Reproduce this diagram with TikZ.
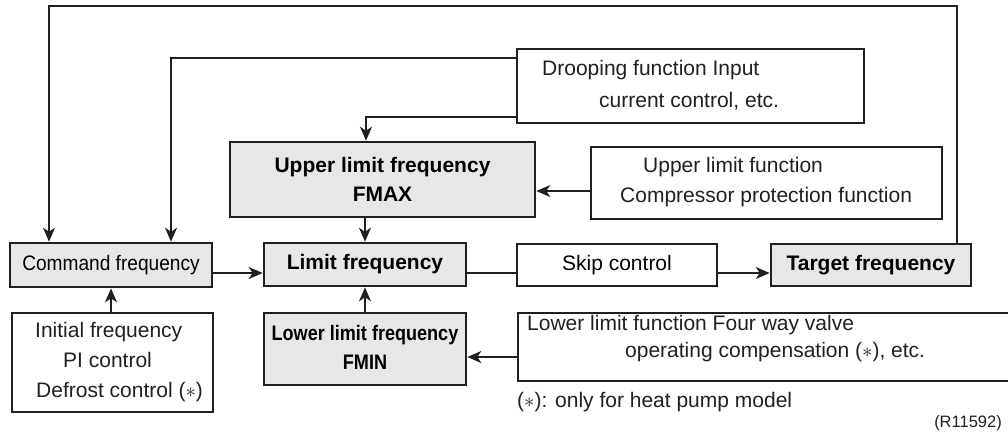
\documentclass[tikz,border=0pt]{standalone}
\usepackage{fontspec}
\usepackage{graphicx}
\setmainfont{Liberation Sans}
\usetikzlibrary{arrows.meta}
\definecolor{ln}{HTML}{231F20}
\definecolor{gfill}{HTML}{E6E7E8}
\newcommand{\fsz}{\fontsize{21}{29}\selectfont}
\begin{document}
\begin{tikzpicture}[x=1pt,y=-1pt,
  box/.style={draw=ln, line width=1.1pt, inner sep=0pt, font=\fsz},
  gbox/.style={draw=ln, line width=2.6pt, fill=gfill, inner sep=0pt, font=\fsz\bfseries, align=center},
  txt/.style={inner sep=0pt, anchor=west, font=\fsz, text height=15pt, text depth=4pt, text=ln},
  con/.style={draw=ln, line width=1.2pt},
  arr/.style={con, -{Stealth[length=14pt,width=12pt,inset=4pt]}}
]
\useasboundingbox (0,0) rectangle (1008,432);

% main boxes
\node[gbox, font=\fsz, minimum width=202pt, minimum height=44pt] (cmd) at (111,265) {\scalebox{0.91}[1]{Command frequency}};
\node[gbox, minimum width=202pt, minimum height=43pt] (lim) at (365,264.5) {Limit frequency};
\node[box, minimum width=200pt, minimum height=42pt] (skip) at (617,265) {Skip control};
\node[gbox, minimum width=200pt, minimum height=42pt] (tgt) at (871,265) {Target frequency};
\node[gbox, minimum width=305pt, minimum height=75pt] (upf) at (382.5,179.5) {Upper limit frequency\\FMAX};
\node[gbox, minimum width=202pt, minimum height=72pt] (lwf) at (365,349) {\scalebox{0.86}[1]{\begin{tabular}{@{}c@{}}Lower limit frequency\\FMIN\end{tabular}}};

% side boxes
\node[box, minimum width=201pt, minimum height=99pt] (ini) at (112.5,362.5) {};
\node[box, minimum width=347pt, minimum height=74pt] (drp) at (690.5,86) {};
\node[box, minimum width=351pt, minimum height=72pt] (ulf) at (766.5,183) {};
\node[box, minimum width=491pt, minimum height=68pt] (llf) at (763.5,347) {};

% texts in side boxes
\node[txt] (ini1) at (35,332) {Initial frequency};
\node[txt] (ini2) at (63,362) {PI control};
\node[txt] (ini3) at (36,392) {Defrost control ($\ast$)};
\node[txt] (drp1) at (542,70) {Drooping function Input};
\node[txt] (drp2) at (599,102) {current control, etc.};
\node[txt] (ulf1) at (643,167) {Upper limit function};
\node[txt] (ulf2) at (620,197) {Compressor protection function};
\node[txt] (llf1) at (527,325) {Lower limit function Four way valve};
\node[txt] (llf2) at (625,352) {operating compensation ($\ast$), etc.};
\node[txt] (note) at (517,402) {($\ast$): only for heat pump model};
\node[txt, anchor=east, font=\fontsize{16.5}{20}\selectfont] (ref) at (1002,422) {(R11592)};

% helper coordinates
\coordinate (lp) at (957,6);
\coordinate (c1) at (49,6);
\coordinate (c2) at (171,58);
\coordinate (c3) at (366,117);
\coordinate (c4) at (0,191);
\coordinate (c5) at (0,357);
\coordinate (c6) at (0,273);

% connectors
\draw[arr] (tgt.north -| lp) -- (lp) -- (c1) -- (c1 |- cmd.north);
\draw[arr] (c2 -| drp.west) -- (c2) -- (c2 |- cmd.north);
\draw[arr] (c3 -| drp.west) -- (c3) -- (c3 |- upf.north);
\draw[arr] (lim.north |- upf.south) -- (lim.north);
\draw[arr] (lwf.north) -- (lim.south);
\draw[arr] (ulf.west |- c4) -- (upf.east |- c4);
\draw[arr] (llf.west |- c5) -- (lwf.east |- c5);
\draw[arr] (cmd.south |- ini.north) -- (cmd.south);
\draw[arr] (cmd.east |- c6) -- (lim.west |- c6);
\draw[con] (lim.east |- c6) -- (skip.west |- c6);
\draw[arr] (skip.east |- c6) -- (tgt.west |- c6);
\end{tikzpicture}
\end{document}
